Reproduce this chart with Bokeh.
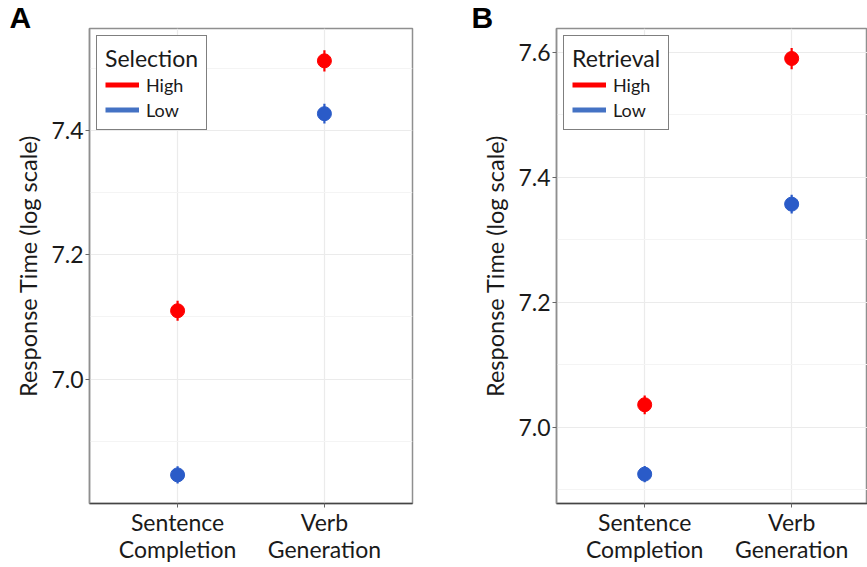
from bokeh.plotting import figure
from bokeh.models import Range1d, FixedTicker, Legend, LegendItem, Title, PrintfTickFormatter
from bokeh.layouts import row
from bokeh.embed import file_html
from bokeh.resources import INLINE

# ---- data ----
task_labels = ["Sentence\nCompletion", "Verb\nGeneration"]
task_pos = [1, 2]

sel_high_mean = [7.110, 7.512]
sel_high_se = [0.016, 0.017]
sel_low_mean = [6.846, 7.427]
sel_low_se = [0.014, 0.016]

ret_high_mean = [7.036, 7.590]
ret_high_se = [0.015, 0.017]
ret_low_mean = [6.925, 7.357]
ret_low_se = [0.013, 0.015]

y_major = [7.0, 7.2, 7.4, 7.6]
y_minor = [6.9, 7.1, 7.3, 7.5]
levels = ["High", "Low"]

RED = "#FF0000"
BLUE_PT = "#2A5BC8"
BLUE_LEG = "#4472C4"
FONT = "Lato"
NAN = float("nan")


def make_panel(letter, title, hm, hse, lm, lse, y0, y1, x1, width,
               mb_left, mb_right, mb_bottom, letter_dx):
    p = figure(width=width, height=567, output_backend="svg",
               toolbar_location=None, x_range=Range1d(0.4, x1),
               y_range=Range1d(y0, y1), min_border_left=mb_left,
               min_border_right=mb_right, min_border_top=28,
               min_border_bottom=mb_bottom)
    p.background_fill_color = "white"
    p.border_fill_color = "white"
    p.outline_line_color = "#8F8F8F"
    p.outline_line_width = 1.5

    # panel letter as title
    p.title = Title(text=letter, align="left", offset=letter_dx, standoff=-11,
                    text_font="Liberation Sans", text_font_style="bold",
                    text_font_size="30px", text_color="black")

    # grids
    p.xgrid.ticker = FixedTicker(ticks=task_pos)
    p.ygrid.ticker = FixedTicker(ticks=y_major, minor_ticks=y_minor)
    p.xgrid.grid_line_color = "#EBEBEB"
    p.ygrid.grid_line_color = "#EBEBEB"
    p.ygrid.minor_grid_line_color = "#F4F4F4"
    p.grid.grid_line_width = 1.2

    # axes
    p.xaxis.ticker = FixedTicker(ticks=task_pos)
    p.xaxis.major_label_overrides = {pos: lab for pos, lab in zip(task_pos, task_labels)}
    p.yaxis.ticker = FixedTicker(ticks=y_major, minor_ticks=y_minor)
    p.yaxis.formatter = PrintfTickFormatter(format="%.1f")
    p.yaxis.axis_label = "Response Time (log scale)"
    for ax in (p.xaxis[0], p.yaxis[0]):
        ax.major_label_text_font = FONT
        ax.major_label_text_font_size = "23px"
        ax.major_label_text_color = "#1A1A1A"
        ax.major_tick_line_color = "#666666"
        ax.major_tick_in = 0
        ax.major_tick_out = 4
        ax.minor_tick_line_color = None
    p.xaxis.major_label_text_line_height = 0.98
    p.xaxis.axis_line_color = "#444444"
    p.xaxis.axis_line_width = 1.5
    p.yaxis.axis_line_color = "#8F8F8F"
    p.yaxis.axis_line_width = 1.5
    p.xaxis.major_label_standoff = 0
    p.yaxis.major_label_standoff = 2
    p.yaxis.axis_label_text_font = FONT
    p.yaxis.axis_label_text_font_size = "23.5px"
    p.yaxis.axis_label_text_font_style = "normal"
    p.yaxis.axis_label_text_color = "#1A1A1A"
    p.yaxis.axis_label_standoff = 6

    # error bars and points
    p.segment(x0=task_pos, y0=[m - s for m, s in zip(hm, hse)],
              x1=task_pos, y1=[m + s for m, s in zip(hm, hse)],
              line_color=RED, line_width=2.2)
    p.segment(x0=task_pos, y0=[m - s for m, s in zip(lm, lse)],
              x1=task_pos, y1=[m + s for m, s in zip(lm, lse)],
              line_color=BLUE_PT, line_width=2.2)
    p.scatter(x=task_pos, y=hm, size=14, fill_color=RED, line_color=RED)
    p.scatter(x=task_pos, y=lm, size=14, fill_color=BLUE_PT, line_color=BLUE_PT)

    # legend proxies (no visible data)
    r_h = p.line(x=[task_pos[0]], y=[NAN], line_color=RED, line_width=5)
    r_l = p.line(x=[task_pos[0]], y=[NAN], line_color=BLUE_LEG, line_width=5)
    leg = Legend(items=[LegendItem(label=levels[0], renderers=[r_h]),
                        LegendItem(label=levels[1], renderers=[r_l])],
                 location="top_left", title=title)
    leg.title_text_font = FONT
    leg.title_text_font_size = "23px"
    leg.title_text_font_style = "normal"
    leg.title_text_color = "#1A1A1A"
    leg.title_standoff = 1
    leg.label_text_font = FONT
    leg.label_text_font_size = "18px"
    leg.label_text_color = "#1A1A1A"
    leg.glyph_width = 34
    leg.glyph_height = 23
    leg.label_height = 23
    leg.label_standoff = 7
    leg.spacing = 2
    leg.padding = 8
    leg.margin = 7
    leg.border_line_color = "black"
    leg.border_line_width = 1.5
    leg.background_fill_color = "white"
    leg.background_fill_alpha = 1.0
    p.add_layout(leg)
    return p


pA = make_panel("A", "Selection", sel_high_mean, sel_high_se, sel_low_mean,
                sel_low_se, 6.8, 7.564, 2.6, 470, 89, 58, 62, -80)
pB = make_panel("B", "Retrieval", ret_high_mean, ret_high_se, ret_low_mean,
                ret_low_se, 6.878, 7.638, 2.516, 397, 86, 0, 64, -85)

layout = row(pA, pB)
open("out.html", "w").write(file_html(layout, INLINE))
